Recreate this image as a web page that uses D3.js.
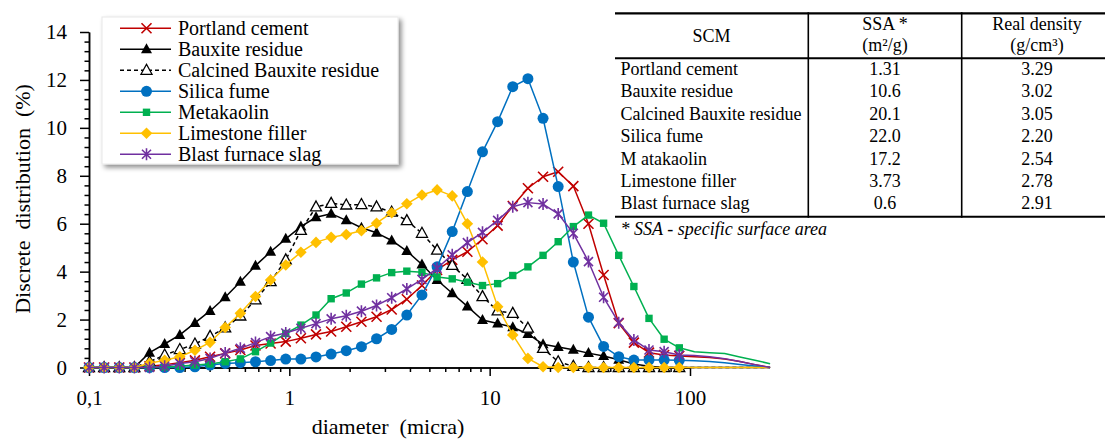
<!DOCTYPE html>
<html><head><meta charset="utf-8">
<script src="https://cdn.jsdelivr.net/npm/d3@7"></script>
<style>
body{margin:0;background:#fff}
svg{display:block}
text{font-family:"Liberation Serif","Times New Roman",serif;fill:#000}
</style>
</head><body>
<svg id="chart" width="1105" height="441"></svg>
<script>
// ---------- DATA ----------
const diameters = [0.1,0.119,0.1416,0.1685,0.2005,0.2386,0.284,0.3379,0.4021,0.4785,
  0.5695,0.6777,0.8064,0.9596,1.142,1.359,1.617,1.924,2.29,2.725,
  3.243,3.859,4.592,5.465,6.503,7.739,9.209,10.96,13.04,15.52,
  18.47,21.98,26.16,31.13,37.04,44.08,52.46,62.42,74.28,88.4];
const tailDiameters = [105.2,125.2,149,177.3,211,251.1];

const portland = [0,0,0,0,0.05,0.12,0.2,0.3,0.45,0.59,0.73,0.92,1.0,1.08,1.22,1.38,1.5,1.7,1.91,2.12,
  2.42,2.85,3.42,4.07,4.49,4.83,5.35,5.92,6.74,7.48,7.96,8.17,7.57,6.0,3.86,1.85,1.04,0.62,0.52,0.48];
const portlandTail = [0.45,0.42,0.35,0.25,0.12,0];
const bauxite = [0,0,0,0,0.62,0.98,1.36,1.86,2.36,2.93,3.58,4.25,4.83,5.37,5.88,6.27,6.42,6.14,5.83,5.62,
  5.3,4.86,4.3,3.65,3.1,2.55,1.98,1.84,1.68,1.4,0.97,0.86,0.74,0.6,0.48,0.32,0.15,0.05,0,0];
const bauxiteTail = [0,0,0,0,0,0];
const calcined = [0,0,0,0,0.24,0.52,0.75,0.98,1.3,1.65,2.15,2.82,3.58,4.49,5.72,6.7,6.85,6.78,6.8,6.7,
  6.48,6.13,5.6,4.9,4.26,3.68,2.96,2.36,2.26,1.64,0.8,0.24,0.05,0,0,0,0,0,0,0];
const calcinedTail = [0,0,0,0,0,0];
const silica = [0,0,0,0,0,0,0,0.03,0.1,0.17,0.2,0.24,0.29,0.35,0.35,0.44,0.56,0.7,0.87,1.2,
  1.59,2.19,3.03,4.2,5.67,7.34,9.0,10.26,11.72,12.05,10.4,7.55,4.4,2.1,0.88,0.45,0.31,0.31,0.31,0.3];
const silicaTail = [0.28,0.25,0.2,0.13,0.06,0];
const metakaolin = [0,0,0,0,0,0.02,0.05,0.1,0.15,0.24,0.36,0.66,1.02,1.42,1.77,2.19,2.87,3.11,3.48,3.74,
  3.96,4.02,3.97,3.78,3.7,3.56,3.42,3.5,3.84,4.2,4.68,5.25,5.88,6.36,6.02,4.68,3.38,2.05,1.18,0.82];
const metakaolinTail = [0.66,0.62,0.58,0.44,0.3,0.16];
const limestone = [0,0,0,0,0.18,0.3,0.45,0.72,1.05,1.67,2.26,2.96,3.65,4.28,4.81,5.22,5.43,5.55,5.71,6.02,
  6.46,6.83,7.2,7.41,7.16,6.0,4.4,2.54,1.36,0.38,0.03,0,0,0,0,0,0,0,0,0];
const limestoneTail = [0,0,0,0,0,0];
const slag = [0,0,0,0,0,0.05,0.17,0.24,0.38,0.6,0.8,1.04,1.29,1.44,1.64,1.83,2.03,2.16,2.35,2.59,
  2.91,3.28,3.68,4.14,4.7,5.21,5.64,6.14,6.71,6.88,6.82,6.41,5.6,4.42,2.93,1.87,1.15,0.73,0.66,0.52];
const slagTail = [0.5,0.45,0.37,0.25,0.12,0];

const seriesNames = ["Portland cement","Bauxite residue","Calcined Bauxite residue","Silica fume","Metakaolin","Limestone filler","Blast furnace slag"];

const xTickValues = [0.1,1,10,100];
const xTickLabels = ["0,1","1","10","100"];
const yTickValues = [0,2,4,6,8,10,12,14];

const tableHeaders = [["SCM"],["SSA *","(m²/g)"],["Real density","(g/cm³)"]];
const tableSCM = ["Portland cement","Bauxite residue","Calcined Bauxite residue","Silica fume","M atakaolin","Limestone filler","Blast furnace slag"];
const tableSSA = ["1.31","10.6","20.1","22.0","17.2","3.73","0.6"];
const tableDensity = ["3.29","3.02","3.05","2.20","2.54","2.78","2.91"];
const footnote = "* SSA - specific surface area";

// ---------- STYLE ----------
const styles = [
  {color:"#C00000", marker:"x"},
  {color:"#000000", marker:"triFilled"},
  {color:"#000000", marker:"triOpen", dash:"4,3"},
  {color:"#0070C0", marker:"circle"},
  {color:"#00B050", marker:"square"},
  {color:"#FFC000", marker:"diamond"},
  {color:"#7030A0", marker:"star"}
];
const seriesValues = [portland,bauxite,calcined,silica,metakaolin,limestone,slag];
const seriesTails = [portlandTail,bauxiteTail,calcinedTail,silicaTail,metakaolinTail,limestoneTail,slagTail];

const svg = d3.select("#chart");
const defs = svg.append("defs");
const f = defs.append("filter").attr("id","shadow").attr("x","-10%").attr("y","-10%").attr("width","130%").attr("height","130%");
f.append("feDropShadow").attr("dx",3).attr("dy",3).attr("stdDeviation",2.5).attr("flood-color","#000").attr("flood-opacity",0.45);

const x = d3.scaleLog().domain([0.1,100]).range([89,690]);
const y = d3.scaleLinear().domain([0,14]).range([367.5,32]);

// axes
const minorX = [];
[0.1,1,10].forEach(b=>{for(let k=2;k<=9;k++) minorX.push(b*k);});
const minorY = [];
for(let v=0; v<14; v+=2){ for(let k=1;k<=4;k++) minorY.push(v+0.4*k); }

const serif = "'Liberation Serif','Times New Roman',serif";
const axisFont = g => g.attr("font-family",serif).attr("font-size",21);

const gxMinor = svg.append("g").attr("transform","translate(0,367.5)")
  .call(d3.axisBottom(x).tickValues(minorX).tickFormat("").tickSizeInner(4.5).tickSizeOuter(0));
const gx = svg.append("g").attr("transform","translate(0,367.5)")
  .call(d3.axisBottom(x).tickValues(xTickValues).tickFormat((d,i)=>xTickLabels[i]).tickSizeInner(8.5).tickSizeOuter(0).tickPadding(14))
  .call(axisFont);
const gyMinor = svg.append("g").attr("transform","translate(89,0)")
  .call(d3.axisLeft(y).tickValues(minorY).tickFormat("").tickSizeInner(4.5).tickSizeOuter(0));
const gy = svg.append("g").attr("transform","translate(89,0)")
  .call(d3.axisLeft(y).tickValues(yTickValues).tickSizeInner(9).tickSizeOuter(0).tickPadding(13))
  .call(axisFont);
[gxMinor,gx,gyMinor,gy].forEach(g=>{
  g.selectAll("path,line").attr("stroke","#000").attr("stroke-width",1.5);
  g.selectAll("text").attr("fill","#000").attr("font-family",serif);
});

// titles
svg.append("text").attr("x",388).attr("y",434).attr("text-anchor","middle").attr("font-size",22)
  .style("white-space","pre").text("diameter  (micra)");
svg.append("text").attr("transform","translate(30,199) rotate(-90)").attr("text-anchor","middle").attr("font-size",22)
  .style("white-space","pre").text("Discrete  distribution  (%)");

// markers
function markerPath(type){
  switch(type){
    case "x": return "M-5,-5L5,5M-5,5L5,-5";
    case "triFilled": case "triOpen": return "M0,-6L5.5,4L-5.5,4Z";
    case "square": return "M-3.7,-3.7H3.7V3.7H-3.7Z";
    case "diamond": return "M0,-5.8L5.8,0L0,5.8L-5.8,0Z";
    case "star": return "M-4.5,-4.5L4.5,4.5M-4.5,4.5L4.5,-4.5M0,-6V6";
  }
  return null;
}
function drawMarker(g, type, color){
  if(type==="circle"){
    g.append("circle").attr("r",5.5).attr("fill",color);
    return;
  }
  const p = g.append("path").attr("d",markerPath(type));
  if(type==="x"||type==="star") p.attr("fill","none").attr("stroke",color).attr("stroke-width",1.6);
  else if(type==="triOpen") p.attr("fill","#fff").attr("stroke",color).attr("stroke-width",1.3);
  else p.attr("fill",color);
}

const line = d3.line().x(d=>x(d[0])).y(d=>y(d[1]));
seriesValues.forEach((vals,si)=>{
  const st = styles[si];
  const pts = diameters.map((d,i)=>[d,vals[i]]).concat(tailDiameters.map((d,i)=>[d,seriesTails[si][i]]));
  svg.append("path").datum(pts).attr("d",line).attr("fill","none").attr("stroke",st.color)
    .attr("stroke-width",1.5).attr("stroke-dasharray",st.dash||null).attr("stroke-linejoin","round");
  const mg = svg.append("g");
  diameters.forEach((d,i)=>{
    const g = mg.append("g").attr("transform",`translate(${x(d)},${y(vals[i])})`);
    drawMarker(g, st.marker, st.color);
  });
});

// legend
const lg = svg.append("g");
lg.append("rect").attr("x",102).attr("y",17).attr("width",296).attr("height",147).attr("fill","#fff")
  .attr("stroke","#e8e8e8").attr("stroke-width",1).attr("filter","url(#shadow)");
seriesNames.forEach((n,i)=>{
  const cy = 28.3 + 21*i;
  const st = styles[i];
  lg.append("line").attr("x1",120).attr("x2",171).attr("y1",cy).attr("y2",cy).attr("stroke",st.color)
    .attr("stroke-width",1.5).attr("stroke-dasharray",st.dash||null);
  const g = lg.append("g").attr("transform",`translate(146.5,${cy})`);
  drawMarker(g, st.marker, st.color);
  lg.append("text").attr("x",178).attr("y",cy+6.5).attr("font-size",20).text(n);
});

// table
const tg = svg.append("g");
const colX = [615,808.3,961.7,1104];
const rowBase = 75, rowStep = 22.4;
tg.append("line").attr("x1",615).attr("x2",1105).attr("y1",13.3).attr("y2",13.3).attr("stroke","#000").attr("stroke-width",2.2);
tg.append("line").attr("x1",615).attr("x2",1105).attr("y1",58.3).attr("y2",58.3).attr("stroke","#000").attr("stroke-width",2);
tg.append("line").attr("x1",615).attr("x2",1105).attr("y1",216.7).attr("y2",216.7).attr("stroke","#000").attr("stroke-width",2);
[colX[1],colX[2]].forEach(cx=>tg.append("line").attr("x1",cx).attr("x2",cx).attr("y1",12.3).attr("y2",217.7).attr("stroke","#000").attr("stroke-width",1.6));
tg.append("text").attr("x",711.5).attr("y",42).attr("text-anchor","middle").attr("font-size",18).text(tableHeaders[0][0]);
tg.append("text").attr("x",885).attr("y",29.5).attr("text-anchor","middle").attr("font-size",18).text(tableHeaders[1][0]);
tg.append("text").attr("x",885).attr("y",50.5).attr("text-anchor","middle").attr("font-size",18).text(tableHeaders[1][1]);
tg.append("text").attr("x",1037).attr("y",29.5).attr("text-anchor","middle").attr("font-size",18).text(tableHeaders[2][0]);
tg.append("text").attr("x",1037).attr("y",50.5).attr("text-anchor","middle").attr("font-size",18).text(tableHeaders[2][1]);
tableSCM.forEach((s,i)=>{
  const by = rowBase + rowStep*i;
  tg.append("text").attr("x",620.5).attr("y",by).attr("font-size",18).style("white-space","pre").text(s);
  tg.append("text").attr("x",885).attr("y",by).attr("text-anchor","middle").attr("font-size",18).text(tableSSA[i]);
  tg.append("text").attr("x",1037).attr("y",by).attr("text-anchor","middle").attr("font-size",18).text(tableDensity[i]);
});
tg.append("text").attr("x",620.5).attr("y",235).attr("font-size",18).attr("font-style","italic").text(footnote);
</script>
</body></html>
